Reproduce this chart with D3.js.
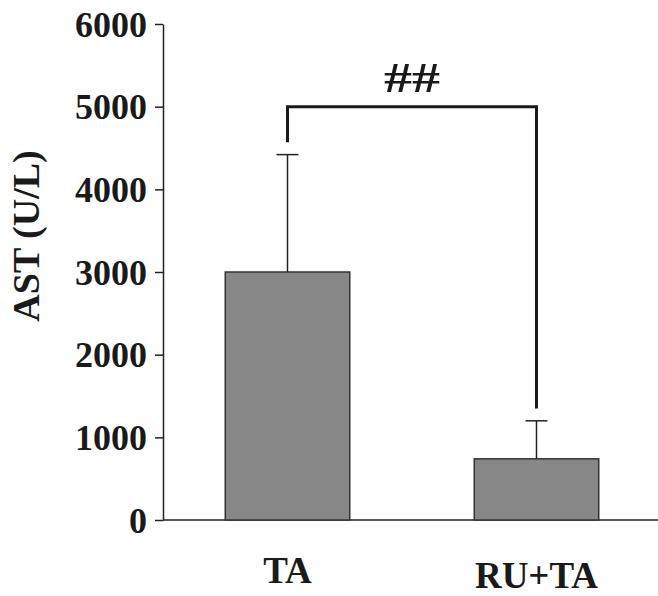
<!DOCTYPE html>
<html>
<head>
<meta charset="utf-8">
<script src="https://cdn.jsdelivr.net/npm/d3@7"></script>
<style>
  body { margin: 0; background: #fff; }
  text { font-family: "Liberation Serif", "Times New Roman", serif; font-weight: bold; fill: #1a1a1a; }
</style>
</head>
<body>
<div id="chart"></div>
<script>
// data
var categories = ["TA", "RU+TA"];
var means = [3000, 740];
var errors = [1420, 460];
var yTicks = [0, 1000, 2000, 3000, 4000, 5000, 6000];
var yLabel = "AST (U/L)";
// significance bracket: level, leg ends (in U/L) and mark
var bracketLevel = 5000;
var bracketLegEnds = [4570, 1350];
var bracketMark = "##";

var chartW = 658, chartH = 596;
var plotLeft = 163, plotTop = 24, plotBottom = 520;

var svg = d3.select("#chart").append("svg")
  .attr("width", chartW)
  .attr("height", chartH);

var y = d3.scaleLinear().domain([0, 6000]).range([plotBottom, plotTop]);
var x = d3.scaleBand().domain(categories)
  .range([plotLeft, 661])
  .paddingInner(0.5)
  .paddingOuter(0.25);

// y axis
var yAxis = svg.append("g")
  .attr("transform", "translate(" + plotLeft + ",0)")
  .call(d3.axisLeft(y).tickValues(yTicks).tickFormat(d3.format("d"))
    .tickSize(8).tickPadding(8).tickSizeOuter(0));
yAxis.select(".domain").attr("stroke", "#222").attr("stroke-width", 1.5);
yAxis.selectAll(".tick line").attr("stroke", "#222").attr("stroke-width", 1.5);
yAxis.selectAll(".tick text")
  .style("font-size", "36px")
  .attr("dy", "0.34em")
  .attr("fill", "#1a1a1a");

// x axis baseline
svg.append("line")
  .attr("x1", plotLeft).attr("x2", chartW)
  .attr("y1", y(0)).attr("y2", y(0))
  .attr("stroke", "#222").attr("stroke-width", 1.5);

// y label
svg.append("text")
  .attr("transform", "translate(39,236) rotate(-90)")
  .attr("text-anchor", "middle")
  .style("font-size", "38px")
  .text(yLabel);

// bars
svg.append("g").selectAll("rect")
  .data(categories)
  .enter().append("rect")
  .attr("x", function(d) { return x(d); })
  .attr("y", function(d, i) { return y(means[i]); })
  .attr("width", x.bandwidth())
  .attr("height", function(d, i) { return y(0) - y(means[i]); })
  .attr("fill", "#878787")
  .attr("stroke", "#333")
  .attr("stroke-width", 1.5);

// error bars (upper only)
var eb = svg.append("g").selectAll("g")
  .data(categories)
  .enter().append("g");
eb.append("line")
  .attr("x1", function(d) { return x(d) + x.bandwidth() / 2; })
  .attr("x2", function(d) { return x(d) + x.bandwidth() / 2; })
  .attr("y1", function(d, i) { return y(means[i]); })
  .attr("y2", function(d, i) { return y(means[i] + errors[i]); })
  .attr("stroke", "#222").attr("stroke-width", 1.5);
eb.append("line")
  .attr("x1", function(d) { return x(d) + x.bandwidth() / 2 - 11; })
  .attr("x2", function(d) { return x(d) + x.bandwidth() / 2 + 11; })
  .attr("y1", function(d, i) { return y(means[i] + errors[i]); })
  .attr("y2", function(d, i) { return y(means[i] + errors[i]); })
  .attr("stroke", "#222").attr("stroke-width", 1.5);

// significance bracket
var bx0 = x(categories[0]) + x.bandwidth() / 2,
    bx1 = x(categories[1]) + x.bandwidth() / 2;
svg.append("path")
  .attr("d", d3.line()([
    [bx0, y(bracketLegEnds[0])],
    [bx0, y(bracketLevel)],
    [bx1, y(bracketLevel)],
    [bx1, y(bracketLegEnds[1])]
  ]))
  .attr("fill", "none")
  .attr("stroke", "#1a1a1a")
  .attr("stroke-width", 3);

svg.append("text")
  .attr("x", (bx0 + bx1) / 2 - 28)
  .attr("y", 92)
  .attr("textLength", 56)
  .attr("lengthAdjust", "spacingAndGlyphs")
  .style("font-size", "43px")
  .text(bracketMark);

// category labels
var catY = [583, 588];
svg.append("g").selectAll("text")
  .data(categories)
  .enter().append("text")
  .attr("x", function(d) { return x(d) + x.bandwidth() / 2; })
  .attr("y", function(d, i) { return catY[i]; })
  .attr("text-anchor", "middle")
  .style("font-size", "37px")
  .text(function(d) { return d; });
</script>
</body>
</html>
